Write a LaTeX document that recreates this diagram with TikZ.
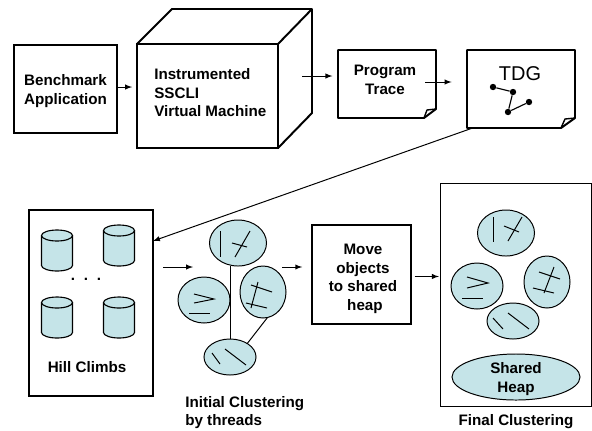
\documentclass[tikz,border=0pt]{standalone}
\usepackage{fontspec}
\setmainfont{Liberation Sans}
\usetikzlibrary{shapes.geometric}
\definecolor{paleteal}{HTML}{C5E4E8}
\tikzset{
  title/.style={font=\bfseries\fontsize{10.8}{13.2}\selectfont,align=center,inner sep=0pt},
  heavy/.style={draw,line width=1.4pt},
  boxnode/.style={heavy,rectangle,inner sep=0pt,outer sep=0pt},
  pagenode/.style={rectangle,inner sep=0pt,outer sep=0pt,minimum width=#1},
  cluster/.style={draw,ellipse,fill=paleteal,line width=0.7pt,inner sep=0pt,outer sep=0pt},
  can/.style={draw,fill=paleteal,line width=0.8pt},
  flow/.style={->,>=latex,line width=0.7pt},
  dot/.style={circle,fill=black,inner sep=0pt,minimum size=0.16cm},
  tick/.style={line width=0.7pt}
}
\newcommand{\barrel}[2]{
\draw[can] (#1-15.5,#2-15) -- (#1-15.5,#2+15) arc[start angle=180,end angle=0,x radius=15.5,y radius=5.5] -- (#1+15.5,#2-15);
\draw[can] (#1,#2-15) ellipse [x radius=15.5,y radius=5.5];
}
\begin{document}
\begin{tikzpicture}[x=0.025cm,y=-0.025cm]
\useasboundingbox (0,0) rectangle (592,430);
% top row
\node[boxnode,minimum width=2.575cm,minimum height=2.2cm] (Bench) at (65.5,89) {};
\node[title] (BenchText) at (65.5,91) {Benchmark\\Application};
\node[boxnode,minimum width=3.525cm,minimum height=2.6cm] (Cube) at (207.5,96) {};
\draw[heavy,line join=round] (Cube.north west) -- (172,9) -- (312,9) -- (312,113) -- (Cube.south east);
\draw[heavy] (Cube.north east) -- (312,9);
\node[title,align=left,anchor=west] (CubeText) at (154,93) {Instrumented\\SSCLI\\Virtual Machine};
\draw[flow,shorten >=3.5pt] ([yshift=1.4pt]Bench.east) -- ([yshift=1.4pt]Bench.east -| Cube.west);
% program trace
\node[pagenode=2.45cm,minimum height=1.7cm] (Trace) at (387,84) {};
\draw[heavy,line join=round] (338,50) -- (436,50) -- (436,109) -- (424,118) -- (338,118) -- cycle;
\draw[heavy,line width=1pt,line join=round] (424,118) -- (427,110) -- (436,109);
\node[title] (TraceText) at (385,80) {Program\\Trace};
\coordinate (CubeOut) at (302,76);
\draw[flow,shorten >=4pt] (CubeOut) -- (CubeOut -| Trace.west);
% thread graph
\node[pagenode=2.7cm,minimum height=1.95cm] (TDG) at (521,89) {};
\draw[heavy,line join=round] (467,50) -- (575,50) -- (575,118) -- (561,128) -- (467,128) -- cycle;
\draw[heavy,line width=1pt,line join=round] (561,128) -- (565,119) -- (575,118);
\node[font=\fontsize{14.2}{16}\selectfont,inner sep=0pt] (TDGText) at (520,74) {TDG};
\node[dot] (D1) at (493,87) {};
\node[dot] (D2) at (513,92) {};
\node[dot] (D3) at (508,112) {};
\node[dot] (D4) at (529,102) {};
\draw[line width=0.8pt] (D1) -- (D2) -- (D3) -- (D4);
\coordinate (TraceOut) at (425,82);
\draw[flow,shorten >=11pt] (TraceOut) -- (TraceOut -| TDG.west);
% hill climbs
\node[boxnode,minimum width=3.1cm,minimum height=4.65cm] (Hill) at (91,303) {};
\barrel{57}{250.5}
\barrel{119}{245.5}
\barrel{57}{317.5}
\barrel{119}{317.5}
\node[font=\bfseries\fontsize{10.8}{13.2}\selectfont,inner sep=0pt] (Dots) at (86,279) {.\hspace{0.22cm}.\hspace{0.22cm}.};
\node[title] (HillText) at (87,367) {Hill Climbs};
\draw[flow] ([xshift=4pt]TDG.south west) -- ([yshift=-0.775cm]Hill.north east);
% initial clustering
\node[cluster,minimum width=1.425cm,minimum height=1.15cm] (IT) at (238,243) {};
\node[cluster,minimum width=1.3cm,minimum height=1.15cm] (IL) at (204,300) {};
\node[cluster,minimum width=1.15cm,minimum height=1.3cm] (IR) at (263,292) {};
\node[cluster,minimum width=1.3cm,minimum height=0.9cm] (IB) at (230,357) {};
\draw[tick] (IT.south -| IB.north) -- (IB.north);
\draw[tick] (IR.-80) -- (IB.38);
\draw[tick] (220,231) -- (220,257);
\draw[tick] (250,231) -- (235,257);
\draw[tick] (232,243) -- (247,247);
\draw[tick] (194,294) -- (214,299) -- (194,303);
\draw[tick] (189,313) -- (210,313);
\draw[tick] (258,282) -- (251,308);
\draw[tick] (251,285) -- (272,292);
\draw[tick] (246,303) -- (267,308);
\draw[tick] (225,349) -- (246,365);
\draw[tick] (212,353) -- (220,364);
\node[title,align=left,anchor=north west] (InitText) at (185,396) {Initial Clustering\\by threads};
\coordinate (HillOut) at (163,267);
\coordinate (InitIn) at (193,267);
\draw[flow] (HillOut) -- (InitIn);
% move objects
\node[boxnode,minimum width=2.475cm,minimum height=2.475cm] (Move) at (361.5,274.5) {};
\node[title] (MoveText) at (363,279) {Move\\objects\\to shared\\\hspace{2.8pt}heap};
\coordinate (InitOut) at (282,267);
\draw[flow,shorten >=7pt] (InitOut) -- (InitOut -| Move.west);
% final clustering
\node[draw,rectangle,line width=0.7pt,minimum width=3.75cm,minimum height=5.55cm,inner sep=0pt,outer sep=0pt] (Final) at (516,295) {};
\node[cluster,minimum width=1.425cm,minimum height=1.15cm] (FT) at (506,233) {};
\node[cluster,minimum width=1.3cm,minimum height=1.15cm] (FL) at (477,286) {};
\node[cluster,minimum width=1.15cm,minimum height=1.3cm] (FR) at (547,282) {};
\node[cluster,minimum width=1.3cm,minimum height=0.9cm] (FB) at (513,321) {};
\draw[tick] (493,217) -- (493,242);
\draw[tick] (522,217) -- (508,241);
\draw[tick] (504,226) -- (519,232);
\draw[tick] (467,277) -- (488,283) -- (467,288);
\draw[tick] (462,298) -- (483,298);
\draw[tick] (554,267) -- (544,293);
\draw[tick] (539,272) -- (560,279);
\draw[tick] (533,288) -- (554,293);
\draw[tick] (508,313) -- (529,329);
\draw[tick] (493,318) -- (503,329);
\node[cluster,minimum width=3.2cm,minimum height=1.15cm] (Heap) at (516,377) {};
\node[title] (HeapText) at (516,379) {Shared\\Heap};
\node[title] (FinalText) at (516,422) {Final Clustering};
\draw[flow,shorten >=1.5pt] ([yshift=-1.4pt]Move.east) ++(2.5pt,0) -- ([yshift=-1.4pt]Move.east -| Final.west);
\end{tikzpicture}
\end{document}
